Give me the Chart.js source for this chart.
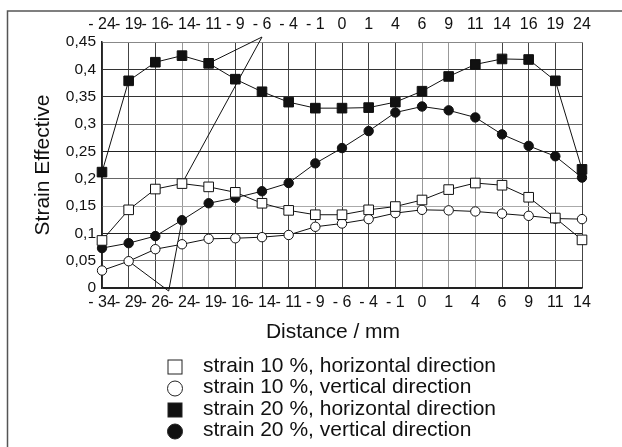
<!DOCTYPE html>
<html>
<head>
<meta charset="utf-8">
<script src="https://cdn.jsdelivr.net/npm/chart.js@4"></script>
<style>
  html, body { margin: 0; padding: 0; background: #fff; }
  #wrap { width: 622px; height: 447px; }
</style>
</head>
<body>
<div id="wrap"><canvas id="strain-chart" width="622" height="447"></canvas></div>
<script>
// bottom axis (vertical direction) and top axis (horizontal direction), mm
const bottomLabels = ['- 34', '- 29', '- 26', '- 24', '- 19', '- 16', '- 14', '- 11', '- 9', '- 6', '- 4', '- 1', '0', '1', '4', '6', '9', '11', '14'];
const topLabels = ['- 24', '- 19', '- 16', '- 14', '- 11', '- 9', '- 6', '- 4', '- 1', '0', '1', '4', '6', '9', '11', '14', '16', '19', '24'];

const strain10Horizontal = [0.087, 0.143, 0.181, 0.191, 0.185, 0.175, 0.155, 0.142, 0.134, 0.134, 0.143, 0.149, 0.161, 0.180, 0.192, 0.188, 0.166, 0.128, 0.088];
const strain10Vertical = [0.032, 0.049, 0.071, 0.080, 0.090, 0.091, 0.093, 0.097, 0.112, 0.118, 0.126, 0.137, 0.143, 0.142, 0.140, 0.136, 0.132, 0.127, 0.126];
const strain20Horizontal = [0.212, 0.379, 0.413, 0.425, 0.411, 0.382, 0.359, 0.340, 0.329, 0.329, 0.330, 0.340, 0.360, 0.387, 0.409, 0.419, 0.418, 0.379, 0.217];
const strain20Vertical = [0.073, 0.082, 0.095, 0.124, 0.155, 0.165, 0.177, 0.192, 0.228, 0.256, 0.287, 0.321, 0.332, 0.325, 0.312, 0.281, 0.260, 0.241, 0.202];

const FONT = '"Liberation Sans", Arial, Helvetica, sans-serif';

// scanned grid: some lines darker than others
const lightCols = [3, 4, 12, 13, 14];
const hGridColors = { 0: '#222', 5: '#777', 10: '#222', 15: '#aaa', 20: '#666', 25: '#222', 30: '#666', 35: '#333', 40: '#333', 45: '#888' };

function fmtY(v) {
  const r = Math.round(v * 100) / 100;
  return String(r).replace('.', ',');
}

// legend, x title, frame
const extras = {
  id: 'extras',
  beforeDatasetsDraw(chart) {
    const ctx = chart.ctx;
    const area = chart.chartArea;
    const sx = chart.scales.x, sx2 = chart.scales.x2;
    const pt = (d, i) => chart.getDatasetMeta(d).data[i];
    ctx.save();
    ctx.strokeStyle = '#111';
    ctx.lineWidth = 1;
    // pointer lines from the top "-6" label
    const ax = sx2.getPixelForValue(6), ay = area.top - 5;
    [[2, 4], [0, 3]].forEach(([d, i]) => {
      ctx.beginPath(); ctx.moveTo(ax, ay); ctx.lineTo(pt(d, i).x, pt(d, i).y); ctx.stroke();
    });
    // pointer lines from under the bottom axis
    const bx = (sx.getPixelForValue(2) + sx.getPixelForValue(3)) / 2, by = area.bottom + 3;
    [[1, 1], [3, 3]].forEach(([d, i]) => {
      ctx.beginPath(); ctx.moveTo(bx, by); ctx.lineTo(pt(d, i).x, pt(d, i).y); ctx.stroke();
    });
    ctx.restore();
  },
  afterDraw(chart) {
    const ctx = chart.ctx;
    ctx.save();
    // frame (left + top visible)
    ctx.strokeStyle = '#555';
    ctx.lineWidth = 1.5;
    ctx.beginPath();
    ctx.moveTo(7.5, 447); ctx.lineTo(7.5, 11); ctx.lineTo(622, 11);
    ctx.stroke();

    ctx.fillStyle = '#111';
    ctx.font = '21px ' + FONT;
    ctx.textAlign = 'center';
    ctx.textBaseline = 'middle';
    ctx.fillText('Distance / mm', 333, 332);

    ctx.textAlign = 'left';
    chart.data.datasets.forEach((ds, k) => {
      const y = 367 + k * 21.5;
      const x = 175;
      ctx.lineWidth = 1;
      ctx.strokeStyle = '#222';
      ctx.fillStyle = ds.pointBackgroundColor;
      if (ds.pointStyle === 'rect') {
        ctx.fillRect(x - 7, y - 7, 14, 14);
        ctx.strokeRect(x - 7, y - 7, 14, 14);
      } else {
        ctx.beginPath(); ctx.arc(x, y, 7.5, 0, Math.PI * 2); ctx.fill(); ctx.stroke();
      }
      ctx.fillStyle = '#111';
      ctx.fillText(ds.label, 203, y - 1);
    });
    ctx.restore();
  }
};

function series(label, values, style, filled, axis) {
  return {
    label: label,
    data: values,
    xAxisID: axis,
    borderColor: '#111',
    borderWidth: 1,
    backgroundColor: filled ? '#111' : '#fff',
    pointStyle: style,
    pointRadius: style === 'rect' ? 6.8 : 4.7,
    pointBackgroundColor: filled ? '#111' : '#fff',
    pointBorderColor: '#111',
    pointBorderWidth: 1,
    tension: 0,
    fill: false
  };
}

const ctx = document.getElementById('strain-chart').getContext('2d');
const chart = new Chart(ctx, {
  type: 'line',
  data: {
    labels: bottomLabels,
    datasets: [
      series('strain 10 %, horizontal direction', strain10Horizontal, 'rect', false, 'x'),
      series('strain 10 %, vertical direction', strain10Vertical, 'circle', false, 'x'),
      series('strain 20 %, horizontal direction', strain20Horizontal, 'rect', true, 'x2'),
      series('strain 20 %, vertical direction', strain20Vertical, 'circle', true, 'x')
    ]
  },
  options: {
    responsive: false,
    animation: false,
    layout: { padding: { left: 0, right: 40, top: 0, bottom: 0 } },
    plugins: { legend: { display: false }, tooltip: { enabled: false } },
    scales: {
      x: {
        type: 'category',
        position: 'bottom',
        offset: false,
        afterFit: s => { s.height = 159; },
        grid: {
          drawTicks: false,
          color: c => lightCols.includes(c.index) ? '#999' : '#444',
          lineWidth: 1
        },
        border: { color: '#222', width: 1.5 },
        ticks: { autoSkip: false, maxRotation: 0, padding: 5, color: '#111', font: { family: FONT, size: 16 } }
      },
      x2: {
        type: 'category',
        position: 'top',
        labels: topLabels,
        offset: false,
        afterFit: s => { s.height = 42; },
        grid: { display: false, drawTicks: false },
        border: { color: '#888', width: 1 },
        ticks: { autoSkip: false, maxRotation: 0, padding: 8, color: '#111', font: { family: FONT, size: 16 } }
      },
      y: {
        min: 0,
        max: 0.45,
        afterFit: s => { s.width = 102; },
        grid: {
          drawTicks: false,
          color: c => hGridColors[Math.round(c.tick.value * 100)] || '#666',
          lineWidth: 1
        },
        border: { color: '#222', width: 1.5 },
        title: {
          display: true,
          text: 'Strain Effective',
          color: '#111',
          font: { family: FONT, size: 21 },
          padding: { top: 31, bottom: 0 }
        },
        ticks: {
          stepSize: 0.05,
          padding: 6,
          color: '#111',
          font: { family: FONT, size: 15.5 },
          callback: v => fmtY(v)
        }
      }
    }
  },
  plugins: [extras]
});
</script>
</body>
</html>
